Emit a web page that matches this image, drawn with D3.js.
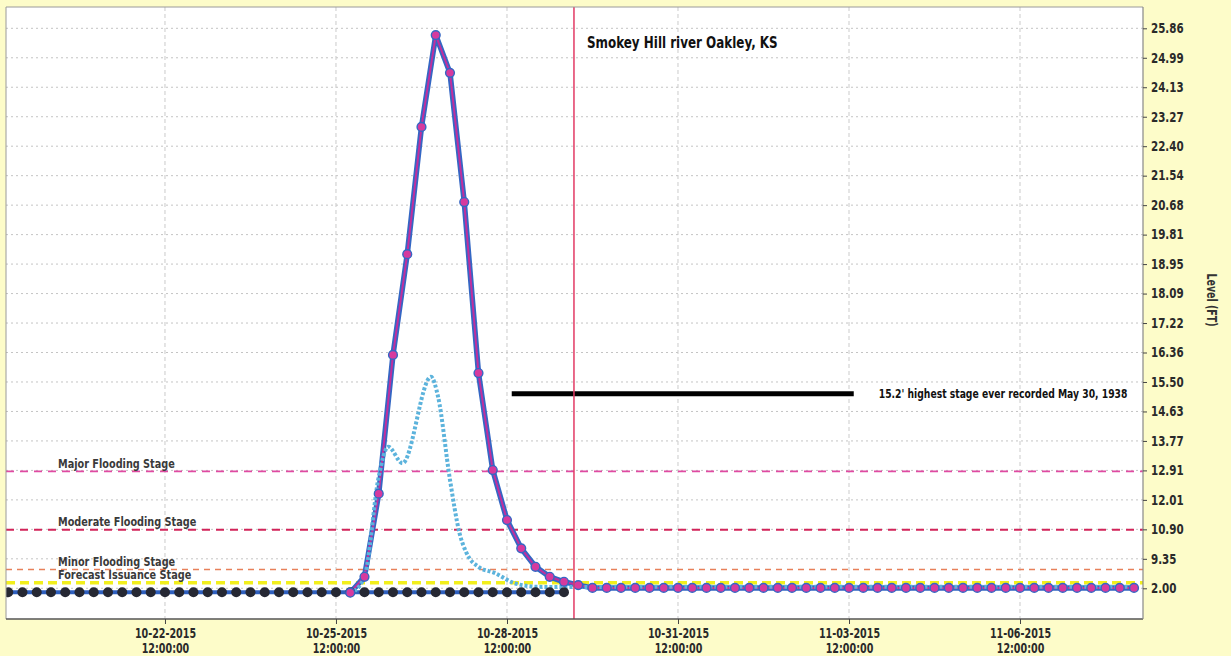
<!DOCTYPE html>
<html><head><meta charset="utf-8">
<script src="https://cdn.jsdelivr.net/npm/d3@7"></script>
<style>
html,body{margin:0;padding:0;background:#fdfcc9;}
svg{display:block;}
.nb{font-family:"DejaVu Sans Condensed","DejaVu Sans",sans-serif;font-stretch:condensed;font-weight:bold;}
</style></head><body>
<svg id="chart" width="1231" height="656"></svg>
<script>
// ---------- data ----------
const yTickValues = [2.00, 9.35, 10.90, 12.01, 12.91, 13.77, 14.63, 15.50, 16.36, 17.22,
                     18.09, 18.95, 19.81, 20.68, 21.54, 22.40, 23.27, 24.13, 24.99, 25.86];
const xTickDates = ["2015-10-22T12:00", "2015-10-25T12:00", "2015-10-28T12:00",
                    "2015-10-31T12:00", "2015-11-03T12:00", "2015-11-06T12:00"];
const xDomain = ["2015-10-19T17:04", "2015-11-08T15:47"];

// observed stage, every 6 hours from 10-19 18:00
const observedStart = "2015-10-19T18:00";
const observedValues = [1.0,1.0,1.0,1.0,1.0,1.0,1.0,1.0,1.0,1.0,
                        1.0,1.0,1.0,1.0,1.0,1.0,1.0,1.0,1.0,1.0,
                        1.0,1.0,1.0,1.0,1.0,1.0,1.0,1.0,1.0,1.0,
                        1.0,1.0,1.0,1.0,1.0,1.0,1.0,1.0,1.0,1.0];

// forecast stage, every 6 hours from 10-25 18:00
const forecastStart = "2015-10-25T18:00";
const forecastValues = [0.9, 4.87, 12.2, 16.29, 19.24, 22.97, 25.66, 24.55, 20.77, 15.76,
                        12.92, 11.25, 9.90, 7.36, 4.87, 3.62, 2.8,
                        2.1,2.1,2.1,2.1,2.1,2.1,2.1,2.1,2.1,2.1,
                        2.1,2.1,2.1,2.1,2.1,2.1,2.1,2.1,2.1,2.1,
                        2.1,2.1,2.1,2.1,2.1,2.1,2.1,2.1,2.1,2.1,
                        2.1,2.1,2.1,2.1,2.1,2.1,2.1,2.1,2.1];

// second (dashed) forecast trace
const altTimes = ["2015-10-25T18:00","2015-10-26T00:00","2015-10-26T06:00","2015-10-26T10:00",
                  "2015-10-26T16:00","2015-10-27T04:00","2015-10-27T07:00","2015-10-27T12:00",
                  "2015-10-27T16:00","2015-10-27T19:00","2015-10-28T00:00","2015-10-28T07:00",
                  "2015-10-28T15:00","2015-10-29T01:00","2015-10-29T12:00","2015-10-31T00:00",
                  "2015-11-02T00:00","2015-11-04T00:00","2015-11-06T00:00","2015-11-08T12:00"];
const altValues = [0.6, 4.87, 12.72, 13.60, 13.12, 15.65, 15.06, 12.62, 10.71, 9.65,
                   7.36, 5.79, 3.30, 2.37, 2.3, 2.4, 2.4, 2.4, 2.4, 2.4];

// flood stages
const stageNames = ["Major Flooding Stage", "Moderate Flooding Stage", "Minor Flooding Stage", "Forecast Issuance Stage"];
const stageValues = [12.88, 10.88, 6.7, 3.37];

// record annotation
const recordValue = 15.15;
const recordSpan = ["2015-10-28T14:00", "2015-11-03T14:00"];
const recordText = "15.2' highest stage ever recorded May 30, 1938";
const issueTime = "2015-10-29T16:12";
const titleText = "Smokey Hill river Oakley, KS";
const yAxisTitle = "Level (FT)";

// ---------- styles ----------
const stageStyle = [
  {color:"#e04aa2", width:1.8, dash:"8,6"},
  {color:"#d2245a", width:2.0, dash:"8,6"},
  {color:"#e8805a", width:1.4, dash:"6,5"},
  {color:"#f2ef1c", width:3.4, dash:"9,5"}
];

// ---------- layout ----------
const L = 6, T = 7, R = 1143, B = 619;
const parse = d3.utcParse("%Y-%m-%dT%H:%M");
const svg = d3.select("#chart");

const x = d3.scaleUtc().domain(xDomain.map(parse)).range([L, R]);
const yTop = 28.3, yBot = 588.3;
const step = (yBot - yTop) / (yTickValues.length - 1);
const y = d3.scaleLinear().domain(yTickValues).range(yTickValues.map((d, i) => yBot - i * step));

const obsT0 = parse(observedStart);
const observed = observedValues.map((v, i) => ({t: d3.utcHour.offset(obsT0, 6 * i), v}));
const fcT0 = parse(forecastStart);
const forecast = forecastValues.map((v, i) => ({t: d3.utcHour.offset(fcT0, 6 * i), v}));
const alt = altTimes.map((t, i) => ({t: parse(t), v: altValues[i]}));

// helper: condensed bold text
function ntext(parent, px, py, size, sx, txt, anchor, fill) {
  return parent.append("text").attr("class", "nb")
    .attr("transform", `translate(${px},${py}) scale(${sx},1)`)
    .attr("font-size", size).attr("fill", fill || "#222")
    .attr("text-anchor", anchor || "start").text(txt);
}

// plot background
svg.append("rect").attr("x", L).attr("y", T).attr("width", R - L).attr("height", B - T).attr("fill", "#fff");
svg.append("defs").append("clipPath").attr("id", "clip")
  .append("rect").attr("x", L).attr("y", T).attr("width", R - L).attr("height", B - T);

// grid
const grid = svg.append("g");
grid.selectAll("line.h").data(yTickValues).join("line")
  .attr("x1", L).attr("x2", R).attr("y1", d => y(d)).attr("y2", d => y(d))
  .attr("stroke", "#c4c4c4").attr("stroke-width", 1).attr("stroke-dasharray", "2,3");
grid.selectAll("line.v").data(xTickDates.map(parse)).join("line")
  .attr("x1", d => x(d)).attr("x2", d => x(d)).attr("y1", T).attr("y2", B)
  .attr("stroke", "#cbcbcb").attr("stroke-width", 1).attr("stroke-dasharray", "4,3");

// stage lines
const stg = svg.append("g");
stageValues.forEach((v, i) => {
  stg.append("line").attr("x1", L).attr("x2", R).attr("y1", y(v)).attr("y2", y(v))
    .attr("stroke", stageStyle[i].color).attr("stroke-width", stageStyle[i].width)
    .attr("stroke-dasharray", stageStyle[i].dash);
});

const plot = svg.append("g").attr("clip-path", "url(#clip)");
const line = d3.line().x(d => x(d.t)).y(d => y(d.v));

plot.append("path").datum(observed).attr("d", line).attr("fill", "none")
  .attr("stroke", "#2e5fbe").attr("stroke-width", 4);
plot.append("path").datum(forecast).attr("d", line).attr("fill", "none")
  .attr("stroke", "#3467c4").attr("stroke-width", 5.5).attr("stroke-linejoin", "round");
plot.append("path").datum(forecast).attr("d", line).attr("fill", "none")
  .attr("stroke", "#c02f9e").attr("stroke-width", 2).attr("stroke-linejoin", "round");
plot.append("path").datum(alt).attr("d", d3.line().x(d => x(d.t)).y(d => y(d.v)).curve(d3.curveMonotoneX))
  .attr("fill", "none").attr("stroke", "#5cb3dc").attr("stroke-width", 4).attr("stroke-dasharray", "3,2");
plot.selectAll("circle.obs").data(observed).join("circle")
  .attr("cx", d => x(d.t)).attr("cy", d => y(d.v)).attr("r", 5)
  .attr("fill", "#262833");
plot.selectAll("circle.fc").data(forecast).join("circle")
  .attr("cx", d => x(d.t)).attr("cy", d => y(d.v)).attr("r", 4.4)
  .attr("fill", "#d63a9e").attr("stroke", "#3467c4").attr("stroke-width", 1.4);

// record line + note
svg.append("line").attr("x1", x(parse(recordSpan[0]))).attr("x2", x(parse(recordSpan[1])))
  .attr("y1", y(recordValue)).attr("y2", y(recordValue))
  .attr("stroke", "#000").attr("stroke-width", 5);
ntext(svg, x(parse(recordSpan[1])) + 25, y(recordValue) + 4, 12.5, 0.82, recordText, "start", "#111");

// issuance vertical line
svg.append("line").attr("x1", x(parse(issueTime))).attr("x2", x(parse(issueTime)))
  .attr("y1", T).attr("y2", B).attr("stroke", "#e23a64").attr("stroke-width", 1.5);

// title
ntext(svg, x(parse(issueTime)) + 13, 48, 16, 0.83, titleText, "start", "#111");

// stage labels
stageNames.forEach((n, i) => {
  ntext(svg, 58, y(stageValues[i]) - 3.5, 13, 0.83, n, "start", "#3a3a3a");
});

// frame
svg.append("line").attr("x1", L).attr("x2", R).attr("y1", T).attr("y2", T).attr("stroke", "#9a9a9a");
svg.append("line").attr("x1", L).attr("x2", L).attr("y1", T).attr("y2", B).attr("stroke", "#9a9a9a");
svg.append("line").attr("x1", L).attr("x2", R).attr("y1", B).attr("y2", B).attr("stroke", "#555").attr("stroke-width", 1.5);
svg.append("line").attr("x1", R).attr("x2", R).attr("y1", T).attr("y2", B).attr("stroke", "#888").attr("stroke-width", 1.2);

// right axis
const yAxis = svg.append("g").attr("transform", `translate(${R},0)`)
  .call(d3.axisRight(y).tickValues(yTickValues).tickFormat(d3.format(".2f")).tickSize(4).tickPadding(3));
yAxis.select(".domain").remove();
yAxis.selectAll("line").attr("stroke", "#444");
yAxis.selectAll(".tick text").attr("class", "nb").attr("font-size", 13.5).attr("fill", "#2a2a2a")
  .attr("x", 0).attr("transform", "translate(8,0) scale(0.85,1)");

// bottom axis
const fmtDate = d3.utcFormat("%m-%d-%Y"), fmtTime = d3.utcFormat("%H:%M:%S");
const xAxis = svg.append("g").attr("transform", `translate(0,${B})`)
  .call(d3.axisBottom(x).tickValues(xTickDates.map(parse)).tickSize(5).tickFormat(""));
xAxis.select(".domain").remove();
xAxis.selectAll("line").attr("stroke", "#444");
xAxis.selectAll(".tick").each(function(d) {
  const g = d3.select(this);
  ntext(g, 0, 19, 14, 0.76, fmtDate(d), "middle", "#2a2a2a");
  ntext(g, 0, 34, 14, 0.76, fmtTime(d), "middle", "#2a2a2a");
});

// y axis title
svg.append("text").attr("class", "nb").attr("transform", "translate(1207,300) rotate(90) scale(0.75,1)")
  .attr("text-anchor", "middle").attr("font-size", 14).attr("fill", "#333").text(yAxisTitle);
</script>
</body></html>
